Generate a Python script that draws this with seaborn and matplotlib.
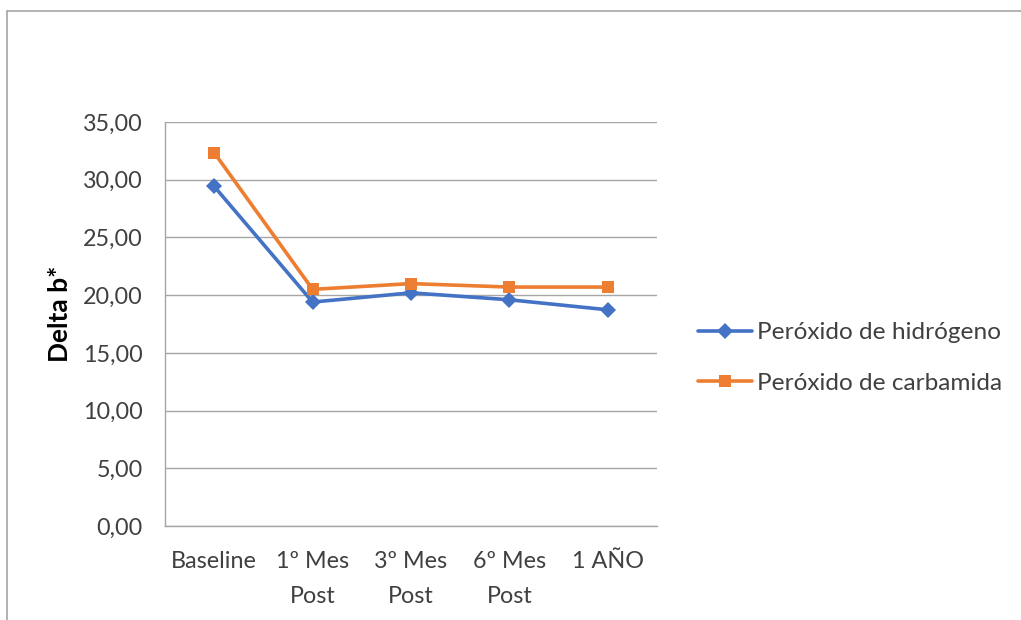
import pandas as pd
import matplotlib.pyplot as plt
import seaborn as sns
from matplotlib.lines import Line2D
from matplotlib.ticker import FuncFormatter

# values
categories = ['Baseline', '1º Mes\nPost', '3º Mes\nPost', '6º Mes\nPost', '1 AÑO']
hidrogeno = [29.42, 19.40, 20.20, 19.60, 18.73]
carbamida = [32.34, 20.50, 21.00, 20.70, 20.70]
series_names = ['Peróxido de hidrógeno', 'Peróxido de carbamida']
y_ticks = [0, 5, 10, 15, 20, 25, 30, 35]

df = pd.DataFrame({
    'momento': categories * 2,
    'valor': hidrogeno + carbamida,
    'grupo': [series_names[0]] * len(categories) + [series_names[1]] * len(categories),
})

sns.set_theme(style="white")
plt.rcParams['font.family'] = ['Lato', 'DejaVu Sans']

W, H = 1021, 620
fig = plt.figure(figsize=(W / 100, H / 100), dpi=100)
ax = fig.add_axes([165 / W, 1 - 526 / H, 492 / W, 404 / H])

sns.lineplot(data=df, x='momento', y='valor', hue='grupo', style='grupo',
             palette=['#4472C4', '#ED7D31'], markers=['D', 's'], dashes=False,
             linewidth=2.6, markersize=8.5, markeredgewidth=0, sort=False, ax=ax)

ax.set_xlim(-0.5, len(categories) - 0.5)
ax.set_ylim(0, 35)
ax.set_yticks(y_ticks)
ax.yaxis.set_major_formatter(FuncFormatter(lambda v, p: f"{v:.2f}".replace('.', ',')))
ax.grid(axis='y', color='#A6A6A6', linewidth=1)
ax.set_axisbelow(True)
for s in ['top', 'right']:
    ax.spines[s].set_visible(False)
for s in ['left', 'bottom']:
    ax.spines[s].set_color('#A6A6A6')
    ax.spines[s].set_linewidth(1)
ax.tick_params(axis='both', labelsize=16.8, colors='#404040', length=0)
ax.tick_params(axis='y', pad=16)
ax.tick_params(axis='x', pad=18)
for lbl in ax.get_xticklabels():
    lbl.set_linespacing(1.8)
ax.set_xlabel('')
ax.set_ylabel('')
fig.text(60 / W, 1 - 314 / H, 'Delta b*', rotation=90, fontsize=19,
         fontweight='bold', color='black', ha='center', va='center')

leg = ax.legend(loc='center left', bbox_to_anchor=(698 / W, 1 - 358 / H),
                bbox_transform=fig.transFigure, frameon=False, fontsize=17.6,
                handlelength=2.2, labelspacing=1.2, handletextpad=0.2,
                borderpad=0, borderaxespad=0)
for t in leg.get_texts():
    t.set_color('#404040')

# border lines of the chart area (top and left only are visible)
fig.add_artist(Line2D([7 / W, 1.0], [1 - 10.5 / H] * 2, transform=fig.transFigure,
                      color='#A6A6A6', linewidth=1.2))
fig.add_artist(Line2D([7 / W] * 2, [0, 1 - 10.5 / H], transform=fig.transFigure,
                      color='#A6A6A6', linewidth=1.2))

plt.savefig('out.png', dpi=100)
